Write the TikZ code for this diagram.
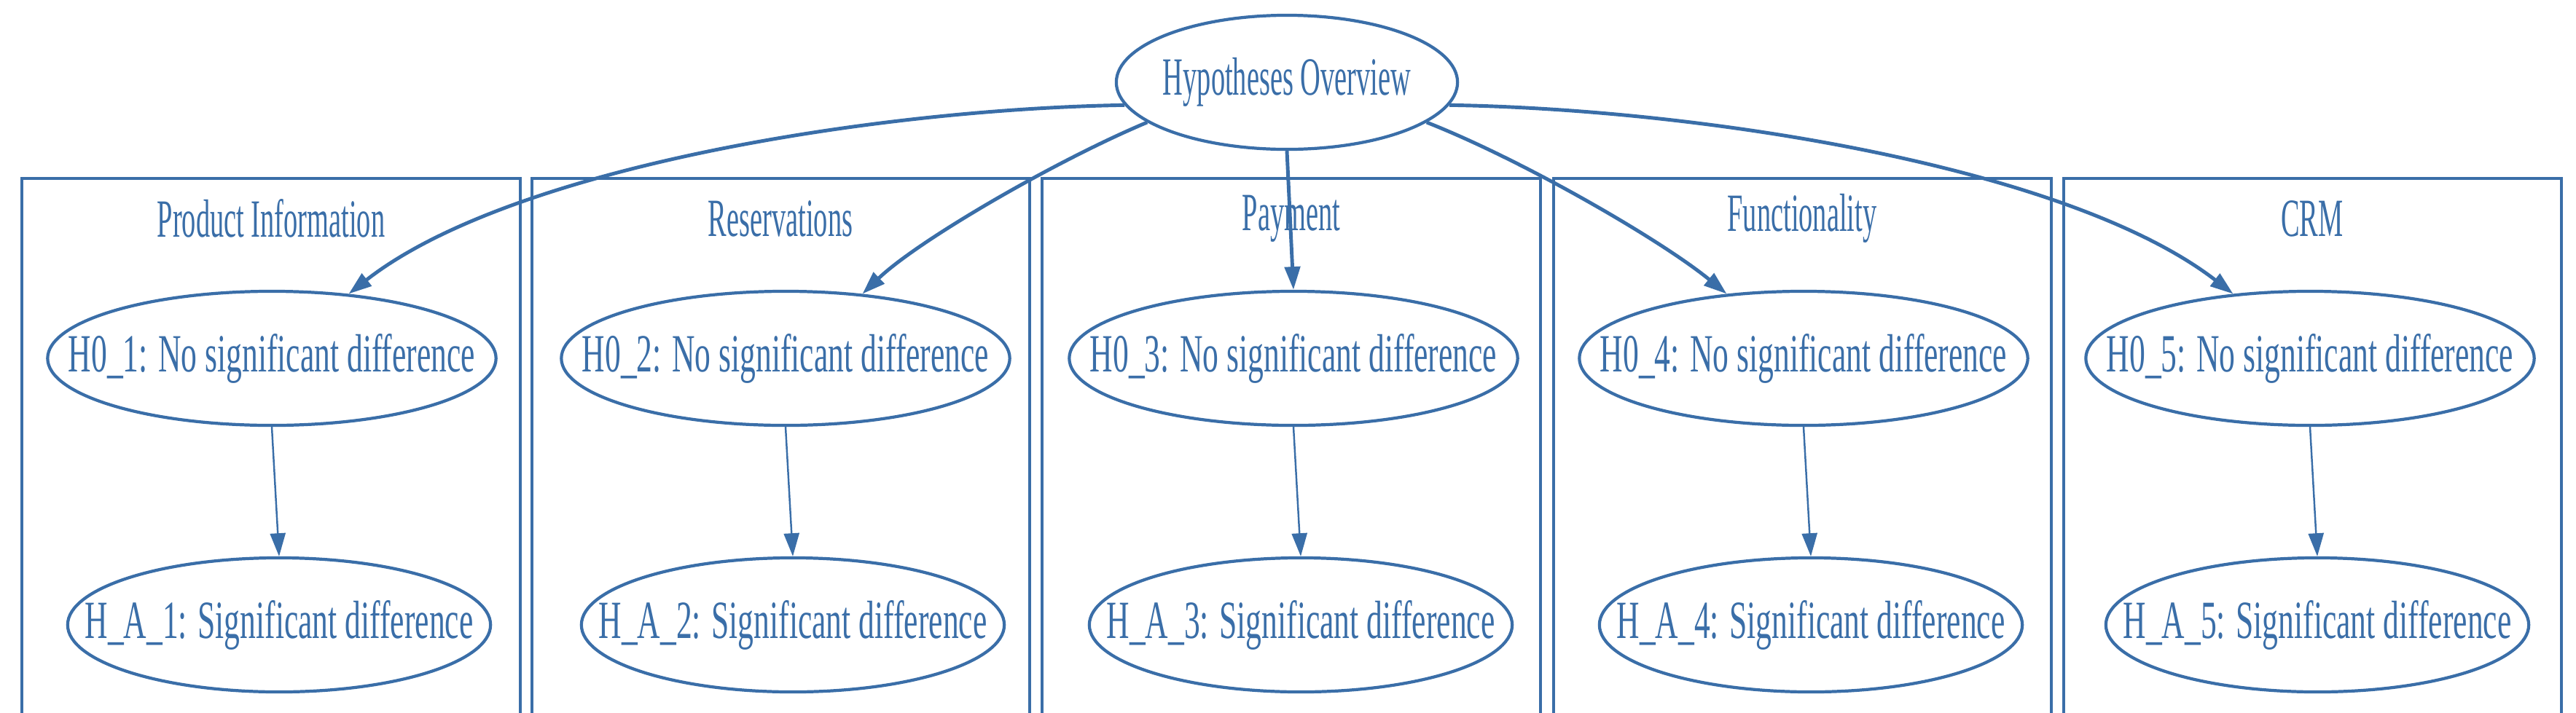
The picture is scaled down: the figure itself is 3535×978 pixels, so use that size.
\documentclass[tikz,border=0pt]{standalone}
\usepackage{fontspec}
\setmainfont{Liberation Serif}
\usetikzlibrary{shapes.geometric,arrows.meta}
\definecolor{gb}{HTML}{3A6EA8}
\newcommand{\sqz}[1]{\scalebox{0.52}[1]{#1}}
\newcommand{\sqw}[1]{\scalebox{0.59}[1]{#1}}
\tikzset{
  ov/.style={ellipse,draw=gb,line width=1.2pt,inner sep=0pt},
  h0/.style={ov,minimum width=6.15cm,minimum height=1.84cm},
  ha/.style={ov,minimum width=5.8cm,minimum height=1.84cm},
  cl/.style={draw=gb,line width=1pt},
  lab/.style={text=gb,font=\fontsize{21}{21}\selectfont,inner sep=0pt},
  big/.style={draw=gb,line width=1.4pt,-{Triangle[length=9pt,width=6pt]}},
  sm/.style={draw=gb,line width=0.7pt,-{Triangle[length=9pt,width=6pt]}}
}
\begin{document}
\begin{tikzpicture}[x=0.01cm,y=-0.01cm]
\useasboundingbox (0,0) rectangle (3535,978);
\clip (0,0) rectangle (3535,978);
% clusters
\draw[cl] (30,990) -- (30,245) -- (714,245) -- (714,990);
\draw[cl] (730,990) -- (730,245) -- (1413,245) -- (1413,990);
\draw[cl] (1430,990) -- (1430,245) -- (2114,245) -- (2114,990);
\draw[cl] (2132,990) -- (2132,245) -- (2815,245) -- (2815,990);
\draw[cl] (2832,990) -- (2832,245) -- (3515,245) -- (3515,990);
\node[lab] (c1) at (372,300) {\sqz{Product Information}};
\node[lab] (c2) at (1071,300) {\sqz{Reservations}};
\node[lab] (c3) at (1772,300) {\sqz{Payment}};
\node[lab] (c4) at (2473,300) {\sqz{Functionality}};
\node[lab] (c5) at (3173,300) {\sqz{CRM}};
% nodes
\node[ov,minimum width=4.68cm,minimum height=1.84cm,fill=white,label={[lab]center:\sqz{Hypotheses Overview}}] (top) at (1766,113) {};
\node[h0,label={[lab]center:\sqw{H0\_1: No significant difference}}] (a1) at (373,492) {};
\node[h0,label={[lab]center:\sqw{H0\_2: No significant difference}}] (a2) at (1078,492) {};
\node[h0,label={[lab]center:\sqw{H0\_3: No significant difference}}] (a3) at (1775,492) {};
\node[h0,label={[lab]center:\sqw{H0\_4: No significant difference}}] (a4) at (2475,492) {};
\node[h0,label={[lab]center:\sqw{H0\_5: No significant difference}}] (a5) at (3170,492) {};
\node[ha,label={[lab]center:\sqw{H\_A\_1: Significant difference}}] (b1) at (383,858) {};
\node[ha,label={[lab]center:\sqw{H\_A\_2: Significant difference}}] (b2) at (1088,858) {};
\node[ha,label={[lab]center:\sqw{H\_A\_3: Significant difference}}] (b3) at (1785,858) {};
\node[ha,label={[lab]center:\sqw{H\_A\_4: Significant difference}}] (b4) at (2485,858) {};
\node[ha,label={[lab]center:\sqw{H\_A\_5: Significant difference}}] (b5) at (3180,858) {};
% edges
\draw[big] (top.188) .. controls (1200,150) and (700,230) .. (a1.40);
\draw[big] (top.196) .. controls (1450,220) and (1260,330) .. (a2.40);
\draw[big] (top.south) -- (a3.north);
\draw[big] (top.-16) .. controls (2090,220) and (2280,330) .. (a4.140);
\draw[big] (top.-8) .. controls (2340,150) and (2840,230) .. (a5.140);
\foreach \i in {1,...,5} \draw[sm] (a\i.south) -- (b\i.north);
\end{tikzpicture}
\end{document}
